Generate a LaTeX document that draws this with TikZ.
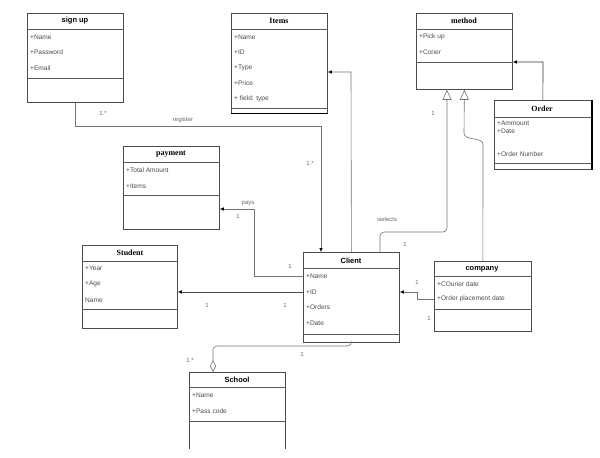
\documentclass[tikz,border=0pt]{standalone}
\usepackage{fontspec}
\setmainfont{Liberation Sans}
\newfontfamily\serifhead{Liberation Serif}
\usetikzlibrary{arrows.meta}

\begin{document}
\begin{tikzpicture}
[ x=1pt, y=-1pt
, classbox/.style={rectangle, draw=black!70, line width=0.8pt, anchor=north west, inner sep=0pt, minimum width=96pt}
, headtext/.style={font=\bfseries\fontsize{7.5}{8}\selectfont, inner sep=0pt}
, attr/.style={anchor=west, font=\fontsize{6.6}{7}\selectfont, text=black!70, inner sep=0pt}
, divider/.style={draw=black!65, line width=0.6pt}
, link/.style={draw=black!55, line width=0.6pt}
, multip/.style={font=\fontsize{6}{7}\selectfont, text=black!60, inner sep=0pt}
, assoc/.style={-{Latex[length=4pt,width=3.5pt,black]}}
, inherit/.style={-{Triangle[open,length=10pt,width=9pt]}}
, curve/.style={rounded corners=4pt}
]
\useasboundingbox (0,0) rectangle (600,458);

% Class boxes:
\node (signup) [classbox, minimum height=89pt] at (27,13) {};
\node (signuphd) [headtext] at (75,21) {sign up};
\draw [divider] ([yshift=-16pt]signup.north west) -- ([yshift=-16pt]signup.north east);
\draw [divider] ([yshift=-65pt]signup.north west) -- ([yshift=-65pt]signup.north east);
\node (signupa1) [attr] at (30,37) {+Name};
\node (signupa2) [attr] at (30,52) {+Password};
\node (signupa3) [attr] at (30,68) {+Email};

\node (items) [classbox, minimum height=100pt] at (231,13) {};
\node (itemshd) [headtext, font=\serifhead\bfseries\fontsize{8}{9}\selectfont] at (279,21) {Items};
\draw [divider] ([yshift=-16pt]items.north west) -- ([yshift=-16pt]items.north east);
\draw [divider] ([yshift=-95pt]items.north west) -- ([yshift=-95pt]items.north east);
\draw [line width=1.2pt] (items.south west) -- (items.south east);
\node (itemsa1) [attr] at (234,37) {+Name};
\node (itemsa2) [attr] at (234,52) {+ID};
\node (itemsa3) [attr] at (234,68) {+Type};
\node (itemsa4) [attr] at (234,83) {+Price};
\node (itemsa5) [attr] at (234,99) {+ field: type};

\node (method) [classbox, minimum height=76pt] at (416,13) {};
\node (methodhd) [headtext, font=\serifhead\bfseries\fontsize{8}{9}\selectfont] at (464,21) {method};
\draw [divider] ([yshift=-16pt]method.north west) -- ([yshift=-16pt]method.north east);
\draw [divider] ([yshift=-49pt]method.north west) -- ([yshift=-49pt]method.north east);
\node (methoda1) [attr] at (419,37) {+Pick up};
\node (methoda2) [attr] at (419,52) {+Corier};

\node (order) [classbox, minimum width=97pt, minimum height=69pt] at (494,100) {};
\node (orderhd) [headtext, font=\serifhead\bfseries\fontsize{8}{9}\selectfont] at (542,109) {Order};
\draw [divider] ([yshift=-17pt]order.north west) -- ([yshift=-17pt]order.north east);
\draw [divider] ([yshift=-63pt]order.north west) -- ([yshift=-63pt]order.north east);
\draw [line width=1.6pt] (order.north east) -- (order.south east);
\node (ordera1) [attr] at (497,123) {+Ammount};
\node (ordera2) [attr] at (497,131) {+Date};
\node (ordera3) [attr] at (497,154) {+Order Number};

\node (payment) [classbox, minimum height=83pt] at (123,146) {};
\node (paymenthd) [headtext, font=\serifhead\bfseries\fontsize{8}{9}\selectfont] at (171,154) {payment};
\draw [divider] ([yshift=-16pt]payment.north west) -- ([yshift=-16pt]payment.north east);
\draw [divider] ([yshift=-49pt]payment.north west) -- ([yshift=-49pt]payment.north east);
\node (paymenta1) [attr] at (126,170) {+Total Amount};
\node (paymenta2) [attr] at (126,186) {+Items};

\node (student) [classbox, minimum width=95pt, minimum height=83pt] at (82,245) {};
\node (studenthd) [headtext, font=\serifhead\bfseries\fontsize{8}{9}\selectfont] at (130,253) {Student};
\draw [divider] ([yshift=-16pt]student.north west) -- ([yshift=-16pt]student.north east);
\draw [divider] ([yshift=-64pt]student.north west) -- ([yshift=-64pt]student.north east);
\node (studenta1) [attr] at (85,268) {+Year};
\node (studenta2) [attr] at (85,284) {+Age};
\node (studenta3) [attr] at (85,300) {Name};

\node (client) [classbox, minimum height=90pt] at (303,252) {};
\node (clienthd) [headtext] at (351,261) {Client};
\draw [divider, line width=0.9pt] ([yshift=-16pt]client.north west) -- ([yshift=-16pt]client.north east);
\draw [divider] ([yshift=-82pt]client.north west) -- ([yshift=-82pt]client.north east);
\node (clienta1) [attr] at (306,276) {+Name};
\node (clienta2) [attr] at (306,292) {+ID};
\node (clienta3) [attr] at (306,307) {+Orders};
\node (clienta4) [attr] at (306,323) {+Date};

\node (company) [classbox, minimum width=97pt, minimum height=70pt] at (434,261) {};
\node (companyhd) [headtext] at (482,269) {company};
\draw [divider] ([yshift=-15pt]company.north west) -- ([yshift=-15pt]company.north east);
\draw [divider] ([yshift=-48pt]company.north west) -- ([yshift=-48pt]company.north east);
\node (companya1) [attr] at (437,284) {+COurier date};
\node (companya2) [attr] at (437,299) {+Order placement date};

\node (school) [rectangle, anchor=north west, inner sep=0pt, minimum width=96pt, minimum height=77pt] at (189,372) {};
\draw [draw=black!70, line width=0.8pt] (school.south west) |- (school.north east) -- (school.south east);
\node (schoolhd) [headtext] at (237,380) {School};
\draw [divider] ([yshift=-15pt]school.north west) -- ([yshift=-15pt]school.north east);
\draw [divider, line width=0.9pt] ([yshift=-49pt]school.north west) -- ([yshift=-49pt]school.north east);
\node (schoola1) [attr] at (192,395) {+Name};
\node (schoola2) [attr] at (192,411) {+Pass code};

% Connectors:
\coordinate (reg) at (321,126);
\draw [link, assoc] (signup.south) |- (reg) -- (reg |- client.north);
\coordinate (itm) at (351,72);
\draw [link, assoc] (client.north) -- (itm) -- (itm -| items.east);
\coordinate (ord) at (543,62);
\draw [link, draw=black!80, assoc] (order.north) -- (ord) -- (ord -| method.east);
\coordinate (sel) at (380,232);
\coordinate (gen1) at (447,232);
\draw [link, curve, inherit] (sel |- client.north) -- (sel) -- (gen1) -- (gen1 |- method.south);
\coordinate (bend) at (483,144);
\coordinate (gen2) at (464,133);
\draw [link, inherit] (company.north) -- (bend) .. controls (483,137) and (464,141) .. (gen2) -- (method.south);
\coordinate (paybend) at (254,276);
\coordinate (paytop) at (254,209);
\draw [link, assoc] (paybend -| client.west) -- (paybend) -- (paytop) -- (paytop -| payment.east);
\coordinate (stu) at (240,292);
\draw [link, draw=black!70, assoc] (stu -| client.west) -- (stu -| student.east);
\coordinate (cobend) at (417,299);
\coordinate (cotop) at (417,292);
\draw [link, assoc] (cobend -| company.west) -- (cobend) -- (cotop) -- (cotop -| client.east);
\coordinate (agg) at (213,346);
\draw [link, curve, -{Diamond[open,length=12pt,width=6pt]}] (client.south) |- (agg) -- (agg |- school.north);

% Labels:
\node (m1) [multip] at (103,113) {1.*};
\node (register) [multip] at (183,120) {register};
\node (m2) [multip] at (310,163) {1.*};
\node (m3) [multip] at (433,113) {1};
\node (selects) [multip] at (387,219) {sielects};
\node (m4) [multip] at (405,244) {1};
\node (pays) [multip] at (248,204) {pays};
\node (m5) [multip] at (238,216) {1};
\node (m6) [multip] at (290,266) {1};
\node (m7) [multip] at (207,305) {1};
\node (m8) [multip] at (285,305) {1};
\node (m9) [multip] at (417,282) {1};
\node (m10) [multip] at (429,318) {1};
\node (m11) [multip] at (190,360) {1.*};
\node (m12) [multip] at (302,354) {1};
\end{tikzpicture}
\end{document}
